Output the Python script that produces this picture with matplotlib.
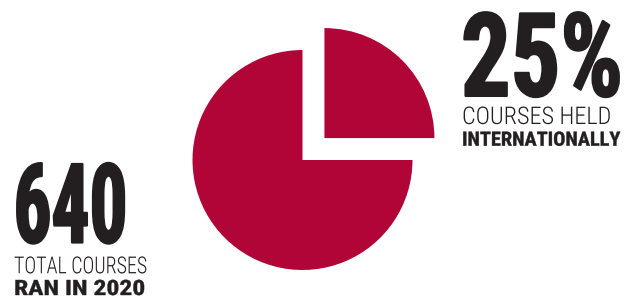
import matplotlib
matplotlib.use('Agg')
import matplotlib.pyplot as plt
from matplotlib.text import Text
from matplotlib.patheffects import AbstractPathEffect
from matplotlib.transforms import Affine2D, Bbox

# data
shares = [25, 75]            # held internationally / rest
total_courses = '640'
intl_share = '25%'
intl_label = ['COURSES HELD', 'INTERNATIONALLY']
total_label = ['TOTAL COURSES', 'RAN IN 2020']

red = '#B10538'
ink = '#231F20'
fams = ['Roboto Condensed', 'Liberation Sans', 'DejaVu Sans']
CAP = 0.711   # cap height / em


class Stretch(AbstractPathEffect):
    # stretch glyphs vertically from the baseline, optional same-colour stroke to fatten
    def __init__(self, sy, lw=0):
        super().__init__()
        self.sy = sy
        self.lw = lw

    def draw_path(self, renderer, gc, tpath, affine, rgbFace=None):
        aff = Affine2D().scale(1, self.sy) + affine
        if self.lw:
            gc0 = renderer.new_gc()
            gc0.copy_properties(gc)
            gc0.set_linewidth(self.lw)
            gc0.set_foreground(rgbFace)
            gc0.set_joinstyle('round')
            renderer.draw_path(gc0, tpath, aff, rgbFace)
            gc0.restore()
        else:
            renderer.draw_path(gc, tpath, aff, rgbFace)


class TallText(Text):
    # extent follows the stretched glyphs (all caps, so nothing below baseline)
    sy = 1.0

    def get_window_extent(self, renderer=None, dpi=None):
        bb = super().get_window_extent(renderer, dpi)
        if renderer is None:
            renderer = self.figure._get_renderer()
        d = self._get_layout(renderer)[2]
        y0 = bb.y0 + d
        return Bbox.from_extents(bb.x0, y0, bb.x1, y0 + (bb.y1 - y0) * self.sy)


fig = plt.figure(figsize=(6.36, 3.06), dpi=100)
ax = fig.add_axes([0, 0, 1, 1])

ax.pie(shares, explode=[31, 0], center=(302.5, 146), radius=110,
       startangle=0, counterclock=True, colors=[red, red],
       wedgeprops=dict(linewidth=0))
ax.set_xlim(0, 636)
ax.set_ylim(0, 306)
ax.set_aspect('auto')
ax.axis('off')

r = fig.canvas.get_renderer()


def put(x, y, s, cap, width, weight, lw=0):
    # x, y = left / baseline in picture pixels (from top), cap = cap height px
    size = cap / CAP * 0.72
    t = TallText(x, 306 - y, s, fontsize=size, fontweight=weight,
                 family=fams, color=ink, ha='left', va='baseline')
    ax.add_artist(t)
    k = width / t.get_window_extent(r).width
    t.set_fontsize(size * k)      # size from the width ...
    t.sy = 1 / k                  # ... and stretch back up to the cap height
    t.set_path_effects([Stretch(t.sy, lw)])
    return t


put(461, 95.9, intl_share, 82.5, 162, 'bold', 1.6)
put(462, 124, intl_label[0], 17.3, 149, 'light')
put(462, 145.7, intl_label[1], 14, 158, 'bold', 0.3)

put(13.5, 242.5, total_courses, 78.5, 114, 'bold', 1.6)
put(14, 273.3, total_label[0], 16.7, 133, 'light')
put(14, 295, total_label[1], 15, 132, 'bold', 0.3)

fig.savefig('out.png', dpi=100)
